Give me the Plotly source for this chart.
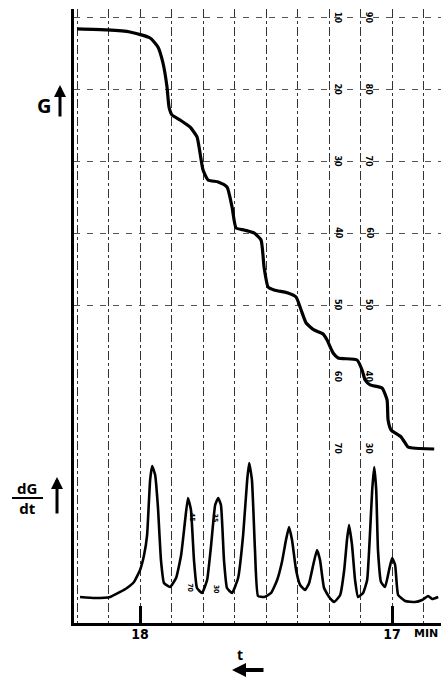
import plotly.graph_objects as go

# ---- data ----
# time in minutes (axis runs from right = later to left = earlier), signal in chart divisions
tg_time = [18.250, 18.131, 18.040, 17.960, 17.929, 17.909, 17.893, 17.885, 17.873, 17.841,
           17.802, 17.774, 17.762, 17.750, 17.730, 17.690, 17.655, 17.635, 17.619, 17.587,
           17.548, 17.520, 17.508, 17.492, 17.468, 17.413, 17.381, 17.361, 17.341, 17.310,
           17.274, 17.258, 17.234, 17.214, 17.139, 17.119, 17.107, 17.087, 17.040, 17.020,
           17.016, 17.004, 16.964, 16.937, 16.917, 16.833]
tg_value = [88.47, 88.33, 88.05, 87.21, 85.96, 83.73, 80.39, 77.60, 76.49, 75.79,
            74.82, 73.43, 71.20, 68.83, 67.44, 67.16, 66.46, 63.68, 60.75, 60.47,
            60.06, 59.08, 55.32, 52.53, 52.12, 51.70, 51.14, 49.33, 47.52, 46.55,
            45.99, 45.15, 43.34, 42.65, 42.37, 40.97, 39.58, 38.89, 38.47, 36.80,
            34.01, 32.62, 31.64, 30.25, 30.11, 29.97]

dtg_time = [18.238, 18.179, 18.119, 18.079, 18.052, 18.024, 18.000, 17.984, 17.972, 17.960,
            17.952, 17.940, 17.929, 17.917, 17.905, 17.881, 17.857, 17.837, 17.821, 17.810,
            17.798, 17.786, 17.774, 17.754, 17.734, 17.718, 17.702, 17.690, 17.679, 17.667,
            17.655, 17.635, 17.611, 17.591, 17.575, 17.567, 17.556, 17.544, 17.532, 17.508,
            17.480, 17.456, 17.437, 17.421, 17.409, 17.397, 17.381, 17.365, 17.345, 17.329,
            17.313, 17.298, 17.286, 17.270, 17.250, 17.230, 17.206, 17.190, 17.179, 17.171,
            17.159, 17.147, 17.135, 17.115, 17.099, 17.087, 17.079, 17.071, 17.063, 17.056,
            17.044, 17.028, 17.012, 17.000, 16.988, 16.976, 16.948, 16.909, 16.881, 16.857,
            16.841, 16.817]
dtg_value = [9.36, 9.22, 9.36, 10.06, 10.61, 11.45, 13.12, 15.21, 17.99, 25.65,
             27.61, 26.35, 21.89, 14.51, 11.31, 10.75, 12.00, 15.21, 20.08, 23.15,
             21.48, 14.51, 10.61, 9.92, 11.73, 16.60, 22.17, 23.15, 22.17, 14.51,
             10.61, 9.92, 12.00, 17.99, 25.65, 28.02, 25.65, 15.90, 9.50, 9.36,
             9.92, 11.73, 14.23, 17.30, 19.11, 17.30, 13.12, 11.03, 10.33, 11.31,
             13.82, 15.90, 14.51, 10.61, 9.36, 8.66, 9.64, 13.12, 17.30, 19.39,
             16.60, 11.73, 9.36, 9.92, 11.73, 18.69, 24.26, 27.47, 24.26, 15.90,
             11.45, 10.75, 13.12, 14.79, 13.82, 9.64, 8.80, 8.66, 8.94, 9.50,
             9.08, 9.36]

x_tick_values = [18, 17]
x_tick_labels = ["<b>18</b>", "<b>17</b>"]
grid_step = 0.125

scale_levels = [90, 80, 70, 60, 50, 40, 30]
scale_left = ["10", "20", "30", "40", "50", "60", "70"]
scale_right = ["90", "80", "70", "60", "50", "40", "30"]
scale_left_t = 17.214
scale_right_t = 17.091
h_grid_levels = [90, 80, 70, 60, 50]

extra_labels = ["45", "35", "70", "30"]
extra_t = [17.794, 17.702, 17.802, 17.698]
extra_v = [20.4, 20.4, 10.6, 10.5]

x_range = [18.262, 16.806]
y_range = [5.74, 91.25]

# ---- figure ----
fig = go.Figure()
fig.add_trace(go.Scatter(x=tg_time, y=tg_value, mode="lines",
                         line=dict(color="black", width=3.2, shape="spline", smoothing=0.5),
                         hoverinfo="skip"))
fig.add_trace(go.Scatter(x=dtg_time, y=dtg_value, mode="lines",
                         line=dict(color="black", width=2.6, shape="spline", smoothing=0.4),
                         hoverinfo="skip"))

C = dict(xanchor="center", yanchor="middle")
ann = []
bold_cond = "DejaVu Sans Condensed"
for lab, lv in zip(scale_left, scale_levels):
    ann.append(dict(x=scale_left_t, y=lv, xref="x", yref="y", text="<b>%s</b>" % lab,
                    showarrow=False, textangle=90, font=dict(size=9, color="black", family=bold_cond), **C))
for lab, lv in zip(scale_right, scale_levels):
    ann.append(dict(x=scale_right_t, y=lv, xref="x", yref="y", text="<b>%s</b>" % lab,
                    showarrow=False, textangle=90, font=dict(size=9, color="black", family=bold_cond), **C))
for lab, tt, vv in zip(extra_labels, extra_t, extra_v):
    ann.append(dict(x=tt, y=vv, xref="x", yref="y", text="<b>%s</b>" % lab,
                    showarrow=False, textangle=90, font=dict(size=7, color="black", family=bold_cond), **C))

# axis labels
ann.append(dict(x=-0.0817, y=0.8436, xref="paper", yref="paper", text="<b>G</b>",
                showarrow=False, font=dict(size=20, color="black", family="Noto Sans"), **C))
ann.append(dict(x=-0.03815, y=0.8762, xref="paper", yref="paper", text="", showarrow=True,
                ax=0, ay=33, arrowhead=2, arrowsize=0.8, arrowwidth=3, arrowcolor="black"))
ann.append(dict(x=-0.128, y=0.2036, xref="paper", yref="paper", text="<b>dG</b><br><b>dt</b>",
                showarrow=False, font=dict(size=15, color="black", family="Noto Sans"), **C))
ann.append(dict(x=-0.0463, y=0.2378, xref="paper", yref="paper", text="", showarrow=True,
                ax=0, ay=38, arrowhead=2, arrowsize=0.8, arrowwidth=3, arrowcolor="black"))
ann.append(dict(x=0.959, y=-0.0163, xref="paper", yref="paper", text="<b>MIN</b>",
                showarrow=False, font=dict(size=11, color="black", family="DejaVu Sans"), **C))
ann.append(dict(x=0.4523, y=-0.0521, xref="paper", yref="paper", text="<b>t</b>",
                showarrow=False, font=dict(size=14, color="black", family="Noto Sans"), **C))
ann.append(dict(x=0.4305, y=-0.0765, xref="paper", yref="paper", text="", showarrow=True,
                ax=33, ay=0, arrowhead=2, arrowsize=0.7, arrowwidth=4, arrowcolor="black"))

fig.update_layout(
    width=442, height=677,
    margin=dict(l=74, r=1, t=9, b=54),
    plot_bgcolor="white", paper_bgcolor="white",
    showlegend=False,
    annotations=ann,
    shapes=[dict(type="line", xref="paper", yref="paper", x0=-0.169, x1=-0.0845,
                 y0=0.2036, y1=0.2036, line=dict(color="black", width=2))],
)
fig.update_xaxes(
    range=x_range, tickvals=x_tick_values, ticktext=x_tick_labels,
    ticks="inside", ticklen=17, tickwidth=3, tickcolor="black",
    tickfont=dict(size=14, color="black", family=bold_cond),
    ticklabelstandoff=-4,
    showline=True, linewidth=3, linecolor="black",
    showgrid=True, gridcolor="#333", gridwidth=1, griddash="dashdot",
    minor=dict(dtick=grid_step, tick0=17, showgrid=True, gridcolor="#333",
               gridwidth=1, griddash="dashdot"),
    zeroline=False,
)
fig.update_yaxes(
    range=y_range, tickvals=h_grid_levels, showticklabels=False, ticks="",
    showline=True, linewidth=3, linecolor="black",
    showgrid=True, gridcolor="#555", gridwidth=1, griddash="6px,7px",
    zeroline=False,
)
fig.write_html("out.html")
